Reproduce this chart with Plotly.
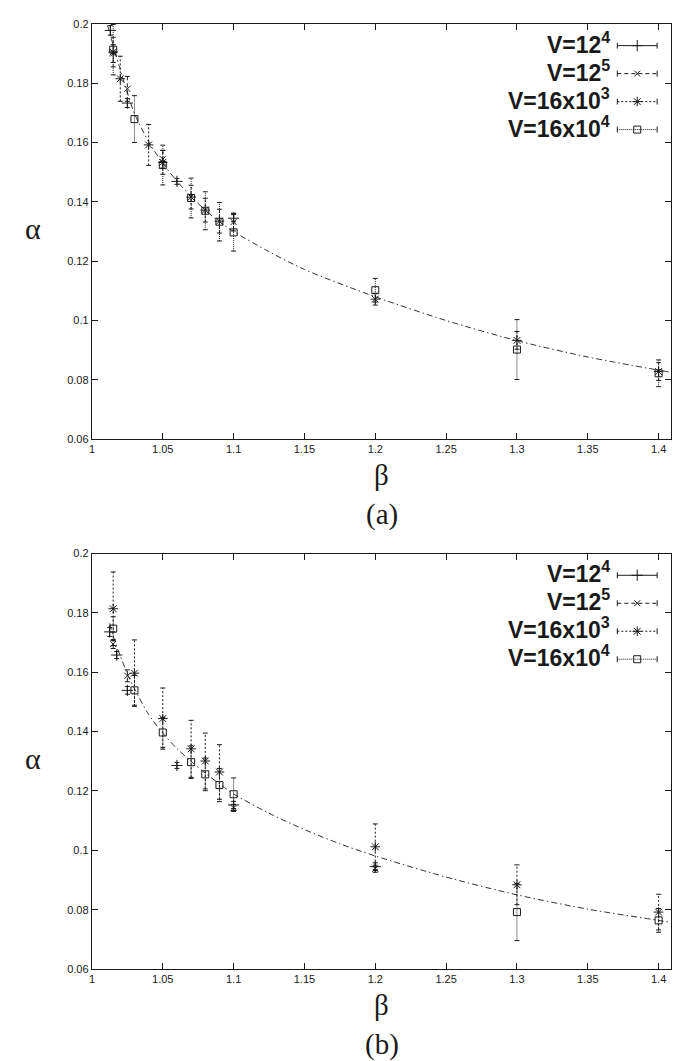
import plotly.graph_objects as go

W, H = 680, 1061

# ---------------- axes / ticks ----------------
BETA_RANGE = [1.0, 1.409]
ALPHA_RANGE = [0.06, 0.2]
X_TICKS = [1, 1.05, 1.1, 1.15, 1.2, 1.25, 1.3, 1.35, 1.4]
X_TICK_LABELS = ["1", "1.05", "1.1", "1.15", "1.2", "1.25", "1.3", "1.35", "1.4"]
Y_TICKS = [0.06, 0.08, 0.1, 0.12, 0.14, 0.16, 0.18, 0.2]
Y_TICK_LABELS = ["0.06", "0.08", "0.1", "0.12", "0.14", "0.16", "0.18", "0.2"]

SERIES = ["V=12<sup>4</sup>", "V=12<sup>5</sup>", "V=16x10<sup>3</sup>", "V=16x10<sup>4</sup>"]

# ---------------- panel (a) ----------------
a_v124_beta = [1.013, 1.025, 1.06, 1.1]
a_v124_alpha = [0.1978, 0.1733, 0.1469, 0.1345]
a_v124_err = [0.0016, 0.0015, 0.0010, 0.0012]

a_v125_beta = [1.015, 1.025, 1.05, 1.1]
a_v125_alpha = [0.1900, 0.1781, 0.1544, 0.1332]
a_v125_err = [0.0030, 0.0042, 0.0030, 0.0030]

a_v163_beta = [1.015, 1.02, 1.04, 1.05, 1.07, 1.08, 1.09, 1.2, 1.3, 1.4]
a_v163_alpha = [0.1905, 0.1815, 0.1592, 0.1533, 0.1416, 0.1372, 0.1335, 0.1072, 0.0933, 0.0828]
a_v163_err = [0.0050, 0.0076, 0.0069, 0.0040, 0.0040, 0.0040, 0.0040, 0.0020, 0.0030, 0.0030]

a_v164_beta = [1.015, 1.03, 1.05, 1.07, 1.08, 1.09, 1.1, 1.2, 1.3, 1.4]
a_v164_alpha = [0.1913, 0.1679, 0.1524, 0.1413, 0.1370, 0.1333, 0.1297, 0.1102, 0.0902, 0.0822]
a_v164_err = [0.0085, 0.0079, 0.0067, 0.0067, 0.0064, 0.0065, 0.0063, 0.0040, 0.0101, 0.0045]

a_fit_beta = [1.011, 1.013, 1.015, 1.02, 1.025, 1.03, 1.04, 1.05, 1.06, 1.07, 1.08, 1.09,
              1.1, 1.125, 1.15, 1.2, 1.25, 1.3, 1.35, 1.409]
a_fit_alpha = [0.1995, 0.1962, 0.1928, 0.1845, 0.1768, 0.1698, 0.1603, 0.1530, 0.1470, 0.1418,
               0.1372, 0.1333, 0.1300, 0.1232, 0.1172, 0.1080, 0.1000, 0.0932, 0.0877, 0.0825]

# ---------------- panel (b) ----------------
b_v124_beta = [1.0125, 1.0175, 1.025, 1.06, 1.1, 1.2]
b_v124_alpha = [0.1736, 0.1658, 0.1539, 0.1286, 0.1153, 0.0945]
b_v124_err = [0.0015, 0.0012, 0.0013, 0.0010, 0.0012, 0.0013]

b_v125_beta = [1.015, 1.025, 1.1, 1.2]
b_v125_alpha = [0.1695, 0.1588, 0.1143, 0.0938]
b_v125_err = [0.0015, 0.0020, 0.0012, 0.0012]

b_v163_beta = [1.015, 1.03, 1.05, 1.07, 1.08, 1.09, 1.2, 1.3, 1.4]
b_v163_alpha = [0.1814, 0.1597, 0.1444, 0.1342, 0.1301, 0.1264, 0.1012, 0.0884, 0.0792]
b_v163_err = [0.0124, 0.0112, 0.0103, 0.0096, 0.0094, 0.0092, 0.0077, 0.0067, 0.0060]

b_v164_beta = [1.015, 1.03, 1.05, 1.07, 1.08, 1.09, 1.1, 1.3, 1.4]
b_v164_alpha = [0.1747, 0.1539, 0.1397, 0.1297, 0.1256, 0.1220, 0.1189, 0.0792, 0.0764]
b_v164_err = [0.0040, 0.0050, 0.0050, 0.0055, 0.0055, 0.0056, 0.0055, 0.0096, 0.0040]

b_fit_beta = [1.0125, 1.0155, 1.02, 1.025, 1.03, 1.04, 1.05, 1.06, 1.07, 1.08, 1.09, 1.1,
              1.125, 1.15, 1.175, 1.2, 1.25, 1.3, 1.35, 1.4, 1.409]
b_fit_alpha = [0.1765, 0.1715, 0.1655, 0.1595, 0.1545, 0.1458, 0.1395, 0.1343, 0.1300, 0.1260,
               0.1224, 0.1190, 0.1125, 0.1070, 0.1022, 0.0981, 0.0910, 0.0850, 0.0802, 0.0764,
               0.0757]

# ---------------- styles ----------------
INK = "#1a1a1a"
STYLES = [
    dict(dash="solid", symbol="cross-thin-open", size=8),
    dict(dash="4px,3px", symbol="x-thin-open", size=6),
    dict(dash="2px,2px", symbol="asterisk-open", size=8),
    dict(dash="1px,1px", symbol="square-open", size=7),
]

# layout geometry (pixels)
PLOT_L, PLOT_R = 81.3, 663.3
PANELS = [(10.0, 430.0), (545.7, 966.0)]
PX_PER_BETA = (PLOT_R - PLOT_L) / (BETA_RANGE[1] - BETA_RANGE[0])
CAP_HALF = 2.5 / PX_PER_BETA

fig = go.Figure()


def add_panel(idx, series, fit):
    xa = "x" if idx == 0 else "x2"
    ya = "y" if idx == 0 else "y2"
    fb, fa = fit
    fig.add_trace(go.Scatter(x=fb, y=fa, mode="lines", xaxis=xa, yaxis=ya,
                             line=dict(color="#333", width=1, dash="6px,3px,1.5px,3px",
                                       shape="spline", smoothing=0.8),
                             showlegend=False, hoverinfo="skip"))
    for (beta, alpha, err), st in zip(series, STYLES):
        bx, by, cx, cy = [], [], [], []
        for b, a, e in zip(beta, alpha, err):
            bx += [b, b, None]
            by += [a - e, a + e, None]
            for yy in (a - e, a + e):
                cx += [b - CAP_HALF, b + CAP_HALF, None]
                cy += [yy, yy, None]
        fig.add_trace(go.Scatter(x=bx, y=by, mode="lines", xaxis=xa, yaxis=ya,
                                 line=dict(color=INK, width=1, dash=st["dash"]),
                                 showlegend=False, hoverinfo="skip"))
        fig.add_trace(go.Scatter(x=cx, y=cy, mode="lines", xaxis=xa, yaxis=ya,
                                 line=dict(color=INK, width=1),
                                 showlegend=False, hoverinfo="skip"))
        fig.add_trace(go.Scatter(x=beta, y=alpha, mode="markers", xaxis=xa, yaxis=ya,
                                 marker=dict(symbol=st["symbol"], size=st["size"], color=INK,
                                             line=dict(color=INK, width=1)),
                                 showlegend=False))


add_panel(0, [(a_v124_beta, a_v124_alpha, a_v124_err),
              (a_v125_beta, a_v125_alpha, a_v125_err),
              (a_v163_beta, a_v163_alpha, a_v163_err),
              (a_v164_beta, a_v164_alpha, a_v164_err)],
          (a_fit_beta, a_fit_alpha))
add_panel(1, [(b_v124_beta, b_v124_alpha, b_v124_err),
              (b_v125_beta, b_v125_alpha, b_v125_err),
              (b_v163_beta, b_v163_alpha, b_v163_err),
              (b_v164_beta, b_v164_alpha, b_v164_err)],
          (b_fit_beta, b_fit_alpha))

# ---------------- manual key (text left of sample, gnuplot style) ----------------
annotations = []
KEY_TEXT_R = 603.5
KEY_L, KEY_R = 609.0, 649.0
KEY_ROW0, KEY_DY = 22.0, 28.3
for top, bottom in PANELS:
    for i, (name, st) in enumerate(zip(SERIES, STYLES)):
        yk = top + KEY_ROW0 + i * KEY_DY
        fig.add_trace(go.Scatter(x=[KEY_L, KEY_R], y=[yk, yk], mode="lines", xaxis="x3", yaxis="y3",
                                 line=dict(color=INK, width=1, dash=st["dash"]),
                                 showlegend=False, hoverinfo="skip"))
        fig.add_trace(go.Scatter(x=[KEY_L, KEY_L, None, KEY_R, KEY_R],
                                 y=[yk - 3, yk + 3, None, yk - 3, yk + 3],
                                 mode="lines", xaxis="x3", yaxis="y3",
                                 line=dict(color=INK, width=1),
                                 showlegend=False, hoverinfo="skip"))
        fig.add_trace(go.Scatter(x=[(KEY_L + KEY_R) / 2], y=[yk], mode="markers", xaxis="x3", yaxis="y3",
                                 marker=dict(symbol=st["symbol"], size=st["size"], color=INK,
                                             line=dict(color=INK, width=1)),
                                 showlegend=False, hoverinfo="skip"))
        annotations.append(dict(xref="paper", yref="paper", x=KEY_TEXT_R / W, y=1 - (yk - 3) / H,
                                xanchor="right", yanchor="middle", showarrow=False,
                                text="<b>" + name + "</b>",
                                font=dict(family="Liberation Sans, Arial, sans-serif", size=23,
                                          color=INK)))

# axis labels and panel captions
SERIF = "Liberation Serif, Times New Roman, serif"
xc = (PLOT_L + PLOT_R) / 2
for (top, bottom), cap in zip(PANELS, ["(a)", "(b)"]):
    annotations.append(dict(xref="paper", yref="paper", x=21.7 / W, y=1 - ((top + bottom) / 2 - 3) / H,
                            xanchor="center", yanchor="middle", showarrow=False, text="α",
                            font=dict(family=SERIF, size=30, color=INK)))
    annotations.append(dict(xref="paper", yref="paper", x=xc / W, y=1 - (bottom + 36) / H,
                            xanchor="center", yanchor="middle", showarrow=False, text="β",
                            font=dict(family=SERIF, size=29, color=INK)))
    annotations.append(dict(xref="paper", yref="paper", x=xc / W, y=1 - (bottom + 76) / H,
                            xanchor="center", yanchor="middle", showarrow=False, text=cap,
                            font=dict(family=SERIF, size=29, color=INK)))

axis_common = dict(showline=True, linecolor=INK, linewidth=1.3, mirror="ticks",
                   ticks="inside", ticklen=6, tickcolor=INK, tickwidth=1,
                   showgrid=False, zeroline=False,
                   tickfont=dict(family="Liberation Sans, Arial, sans-serif", size=11, color=INK))

xdom = [PLOT_L / W, PLOT_R / W]


def ydom(p):
    top, bottom = p
    return [1 - bottom / H, 1 - top / H]


fig.update_layout(
    width=W, height=H, autosize=False,
    margin=dict(l=0, r=0, t=0, b=0),
    paper_bgcolor="white", plot_bgcolor="rgba(0,0,0,0)",
    showlegend=False,
    xaxis=dict(domain=xdom, anchor="y", range=BETA_RANGE, tickvals=X_TICKS, ticktext=X_TICK_LABELS,
               **axis_common),
    yaxis=dict(domain=ydom(PANELS[0]), anchor="x", range=ALPHA_RANGE, tickvals=Y_TICKS,
               ticktext=Y_TICK_LABELS, **axis_common),
    xaxis2=dict(domain=xdom, anchor="y2", range=BETA_RANGE, tickvals=X_TICKS, ticktext=X_TICK_LABELS,
                **axis_common),
    yaxis2=dict(domain=ydom(PANELS[1]), anchor="x2", range=ALPHA_RANGE, tickvals=Y_TICKS,
                ticktext=Y_TICK_LABELS, **axis_common),
    xaxis3=dict(domain=[0, 1], anchor="y3", range=[0, W], visible=False, fixedrange=True),
    yaxis3=dict(domain=[0, 1], anchor="x3", range=[H, 0], visible=False, fixedrange=True),
    annotations=annotations,
)

fig.write_html("out.html")
